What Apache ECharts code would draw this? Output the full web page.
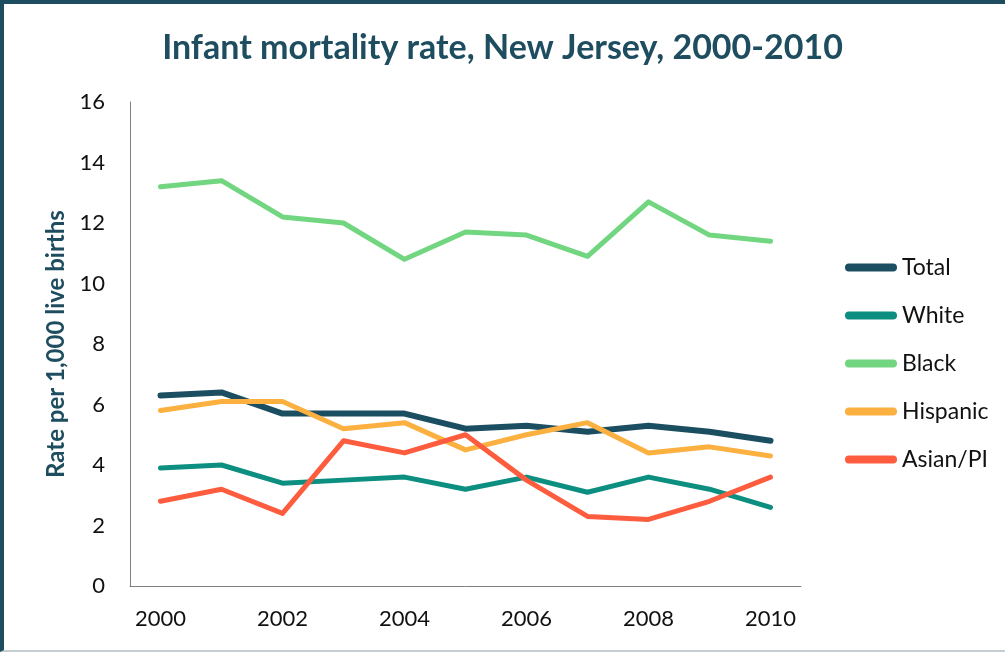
<!DOCTYPE html>
<html>
<head>
<meta charset="utf-8">
<script src="https://cdn.jsdelivr.net/npm/echarts@6/dist/echarts.min.js"></script>
<style>
  html, body { margin: 0; padding: 0; background: #fff; }
  #chart { width: 1005px; height: 652px; }
  #frame {
    position: absolute; left: 0; top: 0; width: 1005px; height: 652px;
    box-sizing: border-box; pointer-events: none;
    border-top: 4px solid #1e4d5f; border-left: 4px solid #1e4d5f;
    border-bottom: 2px solid #c5cfd3;
  }
</style>
</head>
<body>
<div id="chart"></div>
<div id="frame"></div>
<script>
var years = ['2000','2001','2002','2003','2004','2005','2006','2007','2008','2009','2010'];
var total = [6.3, 6.4, 5.7, 5.7, 5.7, 5.2, 5.3, 5.1, 5.3, 5.1, 4.8];
var white = [3.9, 4.0, 3.4, 3.5, 3.6, 3.2, 3.6, 3.1, 3.6, 3.2, 2.6];
var black = [13.2, 13.4, 12.2, 12.0, 10.8, 11.7, 11.6, 10.9, 12.7, 11.6, 11.4];
var hispanic = [5.8, 6.1, 6.1, 5.2, 5.4, 4.5, 5.0, 5.4, 4.4, 4.6, 4.3];
var asian = [2.8, 3.2, 2.4, 4.8, 4.4, 5.0, 3.5, 2.3, 2.2, 2.8, 3.6];
var yTicks = [0, 2, 4, 6, 8, 10, 12, 14, 16];

var font = 'Lato';
// legend swatch: a short line with round ends
var lineIcon = 'path://M4,0 H48 A4,4 0 0 1 48,8 H4 A4,4 0 0 1 4,0 Z';
var myChart = echarts.init(document.getElementById('chart'));

function line(name, data, color, width) {
  return {
    name: name,
    type: 'line',
    data: data,
    symbol: 'none',
    lineStyle: { color: color, width: width, cap: 'round', join: 'round' },
    itemStyle: { color: color },
    emphasis: { disabled: true }
  };
}

var option = {
  animation: false,
  textStyle: { fontFamily: font },
  title: {
    text: 'Infant mortality rate, New Jersey, 2000-2010',
    left: 'center',
    top: 26,
    textStyle: { fontFamily: font, fontSize: 34, fontWeight: 'bold', color: '#1e4d5f' }
  },
  grid: { left: 130, right: 204, top: 102, bottom: 66 },
  legend: {
    orient: 'vertical',
    left: 840,
    top: 251,
    icon: lineIcon,
    itemWidth: 52,
    itemHeight: 8,
    itemGap: 25,
    selectedMode: false,
    textStyle: { fontFamily: font, fontSize: 23, color: '#111' },
    data: ['Total', 'White', 'Black', 'Hispanic', 'Asian/PI']
  },
  xAxis: {
    type: 'category',
    data: years,
    boundaryGap: true,
    axisLine: { lineStyle: { color: '#7f7f7f', width: 1 } },
    axisTick: { show: false },
    axisLabel: { interval: 1, fontFamily: font, fontSize: 22, color: '#111', margin: 22 }
  },
  yAxis: {
    type: 'value',
    min: yTicks[0],
    max: yTicks[yTicks.length - 1],
    interval: 2,
    name: 'Rate per 1,000 live births',
    nameLocation: 'middle',
    nameGap: 58,
    nameTextStyle: { fontFamily: font, fontSize: 24, fontWeight: 'bold', color: '#1e4d5f' },
    axisLine: { show: true, lineStyle: { color: '#7f7f7f', width: 1 } },
    axisTick: { show: false },
    splitLine: { show: false },
    axisLabel: { fontFamily: font, fontSize: 22, color: '#111', margin: 25 }
  },
  series: [
    line('Total', total, '#1c4e62', 6),
    line('White', white, '#0c8f80', 5),
    line('Black', black, '#72d680', 5),
    line('Hispanic', hispanic, '#fbb03f', 5),
    line('Asian/PI', asian, '#fd5d3e', 5)
  ]
};

myChart.setOption(option);
</script>
</body>
</html>
